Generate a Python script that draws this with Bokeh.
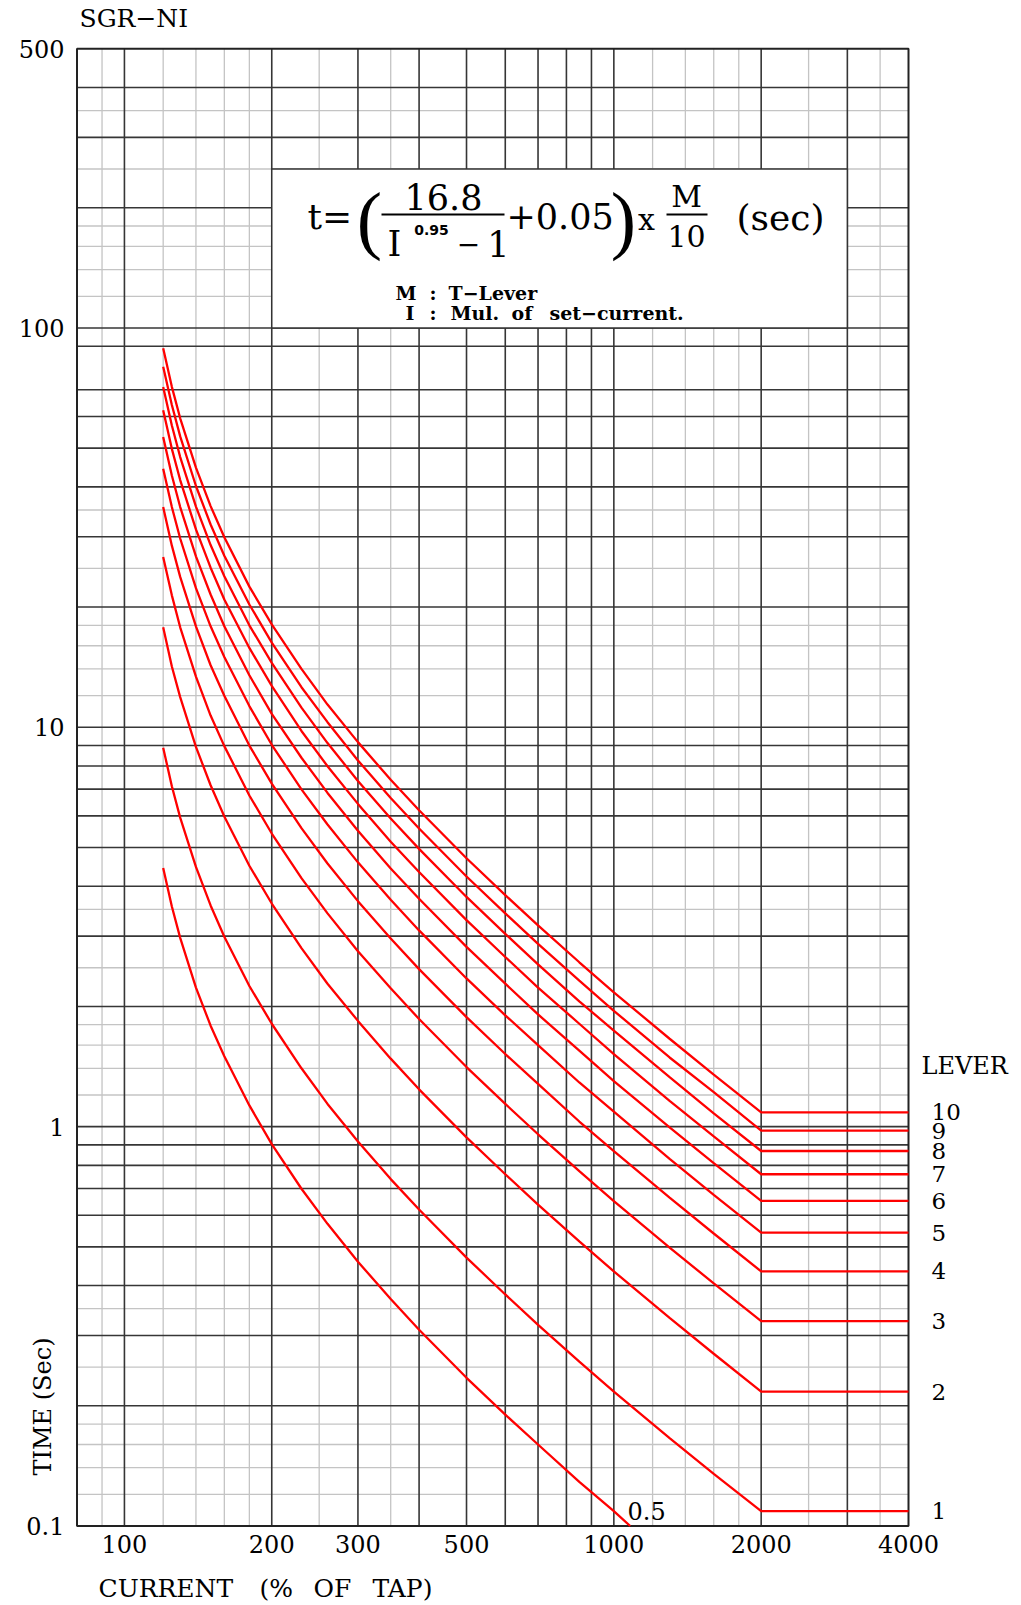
import math
from bokeh.plotting import figure
from bokeh.models import Label
from bokeh.embed import file_html
from bokeh.resources import INLINE

# ---------------- data ----------------
current_pct = [120, 125, 130, 140, 150, 160, 180, 200, 230, 260, 300, 350,
               400, 500, 600, 700, 850, 1000, 1300, 1600, 2000, 4000]

t_lever_10 = [88.9, 71.2, 59.4, 44.7, 35.8, 29.9, 22.5, 18.1, 14.0, 11.4, 9.18, 7.39,
              6.20, 4.70, 3.80, 3.19, 2.58, 2.17, 1.66, 1.35, 1.086, 1.086]
t_lever_9 = [80.0, 64.1, 53.5, 40.2, 32.2, 26.9, 20.3, 16.3, 12.6, 10.3, 8.26, 6.65,
             5.58, 4.23, 3.42, 2.87, 2.32, 1.95, 1.49, 1.22, 0.977, 0.977]
t_lever_8 = [71.1, 57.0, 47.5, 35.7, 28.6, 23.9, 18.0, 14.5, 11.2, 9.13, 7.34, 5.91,
             4.96, 3.76, 3.04, 2.55, 2.06, 1.74, 1.33, 1.08, 0.869, 0.869]
t_lever_7 = [62.2, 49.8, 41.6, 31.3, 25.1, 20.9, 15.8, 12.7, 9.79, 7.99, 6.43, 5.17,
             4.34, 3.29, 2.66, 2.23, 1.81, 1.52, 1.16, 0.945, 0.760, 0.760]
t_lever_6 = [53.3, 42.7, 35.6, 26.8, 21.5, 17.9, 13.5, 10.8, 8.39, 6.85, 5.51, 4.43,
             3.72, 2.82, 2.28, 1.91, 1.55, 1.30, 0.996, 0.810, 0.652, 0.652]
t_lever_5 = [44.4, 35.6, 29.7, 22.3, 17.9, 15.0, 11.3, 9.04, 6.99, 5.71, 4.59, 3.70,
             3.10, 2.35, 1.90, 1.60, 1.29, 1.09, 0.830, 0.675, 0.543, 0.543]
t_lever_4 = [35.6, 28.5, 23.8, 17.9, 14.3, 12.0, 9.00, 7.23, 5.59, 4.56, 3.67, 2.96,
             2.48, 1.88, 1.52, 1.28, 1.03, 0.868, 0.664, 0.540, 0.434, 0.434]
t_lever_3 = [26.7, 21.4, 17.8, 13.4, 10.7, 8.97, 6.75, 5.42, 4.19, 3.42, 2.75, 2.22,
             1.86, 1.41, 1.14, 0.957, 0.774, 0.651, 0.498, 0.405, 0.326, 0.326]
t_lever_2 = [17.8, 14.2, 11.9, 8.93, 7.16, 5.98, 4.50, 3.62, 2.80, 2.28, 1.84, 1.48,
             1.24, 0.940, 0.760, 0.638, 0.516, 0.434, 0.332, 0.270, 0.217, 0.217]
t_lever_1 = [8.89, 7.12, 5.94, 4.47, 3.58, 2.99, 2.25, 1.81, 1.40, 1.14, 0.918, 0.739,
             0.620, 0.470, 0.380, 0.319, 0.258, 0.217, 0.166, 0.135, 0.109, 0.109]
# lever 0.5 runs off the bottom edge (0.1 s) at about 1080 %
current_pct_05 = [120, 125, 130, 140, 150, 160, 180, 200, 230, 260, 300, 350,
                  400, 500, 600, 700, 850, 1000, 1080]
t_lever_05 = [4.44, 3.56, 2.97, 2.23, 1.79, 1.50, 1.13, 0.904, 0.699, 0.571, 0.459, 0.370,
              0.310, 0.235, 0.190, 0.160, 0.129, 0.109, 0.100]

lever_names = ["10", "9", "8", "7", "6", "5", "4", "3", "2", "1", "0.5"]
lever_times = [t_lever_10, t_lever_9, t_lever_8, t_lever_7, t_lever_6, t_lever_5,
               t_lever_4, t_lever_3, t_lever_2, t_lever_1, t_lever_05]
lever_x = [current_pct] * 10 + [current_pct_05]

x_ticks = [100, 200, 300, 500, 1000, 2000, 4000]
y_ticks = [0.1, 1, 10, 100, 500]

x_grid_major = [100, 200, 300, 400, 500, 600, 700, 800, 900, 1000, 2000, 3000]
x_grid_minor = [90, 120, 140, 160, 180, 250, 350, 1200, 1400, 1600, 1800, 2500, 3500]
y_grid_major = [0.2, 0.3, 0.4, 0.5, 0.6, 0.7, 0.8, 0.9, 1, 2, 3, 4, 5, 6, 7, 8, 9,
                10, 20, 30, 40, 50, 60, 70, 90, 100, 200, 300, 400]
y_grid_minor = [0.12, 0.14, 0.16, 0.18, 0.25, 0.35, 1.2, 1.4, 1.6, 1.8, 2.5, 3.5,
                12, 14, 16, 18, 25, 35, 120, 140, 160, 180, 250, 350]

X_MIN, X_MAX = 80, 4000
Y_MIN, Y_MAX = 0.1, 500

# ---------------- layout (page pixels) ----------------
W, H = 1021, 1605
CL, CR, CT, CB = 76.5, 908.0, 48.3, 1525.5   # chart box


def px2x(px):
    return 10 ** (math.log10(X_MIN) + (px - CL) / (CR - CL) * math.log10(X_MAX / X_MIN))


def py2y(py):
    return 10 ** (math.log10(Y_MAX) - (py - CT) / (CB - CT) * math.log10(Y_MAX / Y_MIN))


SERIF = "DejaVu Serif"
DARK = "#363636"
LIGHT = "#c4c4c4"

p = figure(width=W, height=H, x_axis_type="log", y_axis_type="log",
           x_range=(px2x(0), px2x(W)), y_range=(py2y(H), py2y(0)),
           output_backend="svg", toolbar_location=None,
           x_axis_location=None, y_axis_location=None, title_location=None,
           min_border=0)
p.xgrid.visible = False
p.ygrid.visible = False
p.outline_line_color = None
p.background_fill_color = "white"
p.border_fill_color = "white"


# ---- grid ----
def vgrid(xs, color, width):
    p.segment(x0=xs, x1=xs, y0=[Y_MIN] * len(xs), y1=[Y_MAX] * len(xs),
              line_color=color, line_width=width)


def hgrid(ys, color, width):
    p.segment(x0=[X_MIN] * len(ys), x1=[X_MAX] * len(ys), y0=ys, y1=ys,
              line_color=color, line_width=width)


vgrid(x_grid_minor, LIGHT, 1.3)
hgrid(y_grid_minor, LIGHT, 1.3)
vgrid(x_grid_major, DARK, 1.6)
hgrid(y_grid_major, DARK, 1.6)

# chart border
p.quad(left=[X_MIN], right=[X_MAX], bottom=[Y_MIN], top=[Y_MAX],
       fill_color=None, line_color="#222222", line_width=2)

# ---- curves ----
for xs, times in zip(lever_x, lever_times):
    p.line(xs, times, line_color="#ff0000", line_width=2.3)

# ---- formula box ----
p.quad(left=[200], right=[3000], bottom=[100], top=[250],
       fill_color="white", line_color="#333333", line_width=1.5)
p.segment(x0=[px2x(381), px2x(666)], y0=[py2y(214), py2y(214)],
          x1=[px2x(504), px2x(707)], y1=[py2y(214), py2y(214)],
          line_color="black", line_width=2)


def lab(text, x, y, size, align="left", font=SERIF, style="normal", angle=0.0):
    p.add_layout(Label(x=x, y=y, text=text, text_font=font,
                       text_font_size=f"{size}px", text_align=align,
                       text_baseline="middle", text_font_style=style,
                       text_color="black", angle=angle))


def labp(text, xp, yp, size, **kw):
    lab(text, px2x(xp), py2y(yp), size, **kw)


# tick labels
for t in y_ticks:
    lab(f"{t:g}", px2x(64), t, 24, align="right")
for t in x_ticks:
    lab(f"{t:g}", t, py2y(1543), 24, align="center")

# lever labels
for name, times in zip(lever_names[:-1], lever_times[:-1]):
    lab(name, px2x(931), times[-1], 23)
labp(lever_names[-1], 627, 1510, 24)
labp("LEVER", 921, 1065, 24)

# formula text
labp("t=", 307, 216, 36)
labp("(", 369, 218, 76, align="center", font="Liberation Serif")
labp("16.8", 443, 196, 35, align="center")
labp("I", 387, 243, 35)
labp("0.95", 431, 229, 14, align="center", font="DejaVu Sans", style="bold")
labp("−", 468, 243, 28, align="center")
labp("1", 498, 243, 35, align="center")
labp("+0.05", 506, 215, 35)
labp(")", 623, 218, 76, align="center", font="Liberation Serif")
labp("x", 646, 219, 30, align="center")
labp("M", 686, 196, 30, align="center")
labp("10", 686, 235, 30, align="center")
labp("(sec)", 780, 217, 36, align="center")

labp("M", 395, 292, 19, style="bold")
labp(":", 429, 292, 19, style="bold")
labp("T−Lever", 448, 292, 19, style="bold")
labp("I", 405, 312, 19, style="bold")
labp(":", 429, 312, 19, style="bold")
labp("Mul.", 450, 312, 19, style="bold")
labp("of", 511, 312, 19, style="bold")
labp("set−current.", 549, 312, 19, style="bold")

# titles
labp("SGR−NI", 79, 18, 25)
labp("TIME (Sec)", 42, 1406, 24, align="center", angle=math.pi / 2)
labp("CURRENT", 98, 1588, 25)
labp("(%", 259, 1588, 25)
labp("OF", 313, 1588, 25)
labp("TAP)", 372, 1588, 25)

open("out.html", "w").write(file_html(p, INLINE))
